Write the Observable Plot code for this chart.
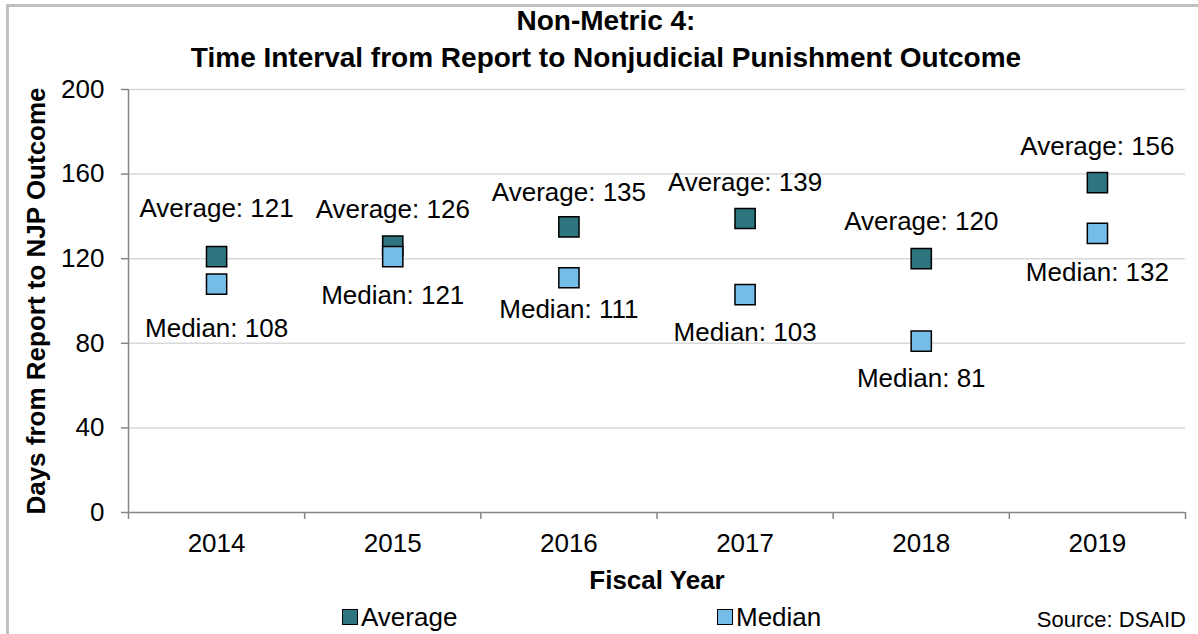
<!DOCTYPE html>
<html><head><meta charset="utf-8">
<script src="https://cdn.jsdelivr.net/npm/d3@7"></script>
<script src="https://cdn.jsdelivr.net/npm/@observablehq/plot@0.6"></script>
<style>
body{margin:0;background:#fff;font-family:"Liberation Sans",Arial,sans-serif;color:#000;}
#wrap{position:relative;width:1198px;height:634px;overflow:hidden;background:#fff;}
#border{position:absolute;left:6px;top:4px;width:1300px;height:700px;border-left:3px solid #c0c0c0;border-top:3px solid #c0c0c0;}
#title{position:absolute;left:0;top:3px;width:1212px;text-align:center;font-weight:bold;font-size:28px;line-height:36.5px;}
#chart{position:absolute;left:0;top:0;}
.leg{position:absolute;top:602px;height:30px;font-size:26px;line-height:30px;display:flex;align-items:center;}
.sw{width:14px;height:14px;border:1.5px solid #000;margin-right:3px;}
#source{position:absolute;right:12px;top:607px;font-size:22px;line-height:26px;}
</style></head>
<body>
<div id="wrap">
  <div id="border"></div>
  <div id="chart"></div>
  <div id="title">Non-Metric 4:<br>Time Interval from Report to Nonjudicial Punishment Outcome</div>
  <div id="legend"></div>
  <div id="source">Source: DSAID</div>
</div>
<script>
const years = ["2014", "2015", "2016", "2017", "2018", "2019"];
const averageDays = [121, 126, 135, 139, 120, 156];
const medianDays = [108, 121, 111, 103, 81, 132];
const yTicks = [0, 40, 80, 120, 160, 200];
const seriesNames = ["Average", "Median"];
const seriesColors = ["#2e7580", "#74bde9"];

// label nudges (pixels) for the data labels, as placed in the original
const averageLabelDy = [-48, -36, -34, -36, -37, -36];
const medianLabelDy = [45, 39, 32, 38, 37, 39];

const rows = years.flatMap((year, i) => [
  {year, i, series: "Average", value: averageDays[i]},
  {year, i, series: "Median", value: medianDays[i]}
]);

const font = "Liberation Sans, Arial, sans-serif";
const xPos = d => d.i + 0.5;

const labelMarks = years.flatMap((year, i) => [
  Plot.text([rows[2 * i]], {x: xPos, y: "value", text: d => `${d.series}: ${d.value}`, dy: averageLabelDy[i], fontSize: 26, fill: "#000"}),
  Plot.text([rows[2 * i + 1]], {x: xPos, y: "value", text: d => `${d.series}: ${d.value}`, dy: medianLabelDy[i], fontSize: 26, fill: "#000"})
]);

const chart = Plot.plot({
  width: 1198,
  height: 634,
  marginLeft: 128,
  marginRight: 13,
  marginTop: 89,
  marginBottom: 122,
  style: {fontFamily: font, fontSize: "26px", color: "#000", background: "transparent", overflow: "visible"},
  x: {domain: [0, years.length]},
  y: {domain: [0, 200]},
  color: {domain: seriesNames, range: seriesColors},
  marks: [
    Plot.gridY(yTicks.filter(t => t > 0), {stroke: "#d9d9d9", strokeOpacity: 1, strokeWidth: 1.5}),
    Plot.axisY(yTicks, {tickSize: 7, tickPadding: 17, stroke: "#868686", strokeWidth: 1.5, fontSize: 26, label: null}),
    Plot.axisX(d3.range(0, years.length + 1), {tickSize: 7, tickFormat: () => "", stroke: "#868686", strokeWidth: 1.5, label: null}),
    Plot.axisX(years.map((_, i) => i + 0.5), {tickSize: 0, tickPadding: 21, tickFormat: v => years[Math.floor(v)], fontSize: 26, label: null}),
    Plot.ruleY([0], {stroke: "#868686", strokeWidth: 1.5}),
    Plot.ruleX([0], {stroke: "#868686", strokeWidth: 1.5}),
    Plot.dot(rows, {x: xPos, y: "value", symbol: "square", r: 11.4, fill: "series", stroke: "#000", strokeWidth: 1.5}),
    ...labelMarks,
    Plot.text(["Days from Report to NJP Outcome"], {frameAnchor: "left", textAnchor: "middle", rotate: -90, dx: -92, fontWeight: "bold", fontSize: 26, fill: "#000"}),
    Plot.text(["Fiscal Year"], {frameAnchor: "bottom", dy: 76, fontWeight: "bold", fontSize: 26, fill: "#000"})
  ]
});
document.getElementById("chart").appendChild(chart);

const legendLeft = [342, 717];
const legend = document.getElementById("legend");
seriesNames.forEach((name, k) => {
  const item = document.createElement("div");
  item.className = "leg";
  item.style.left = legendLeft[k] + "px";
  const sw = document.createElement("span");
  sw.className = "sw";
  sw.style.background = seriesColors[k];
  item.appendChild(sw);
  item.appendChild(document.createTextNode(name));
  legend.appendChild(item);
});
</script>
</body></html>
